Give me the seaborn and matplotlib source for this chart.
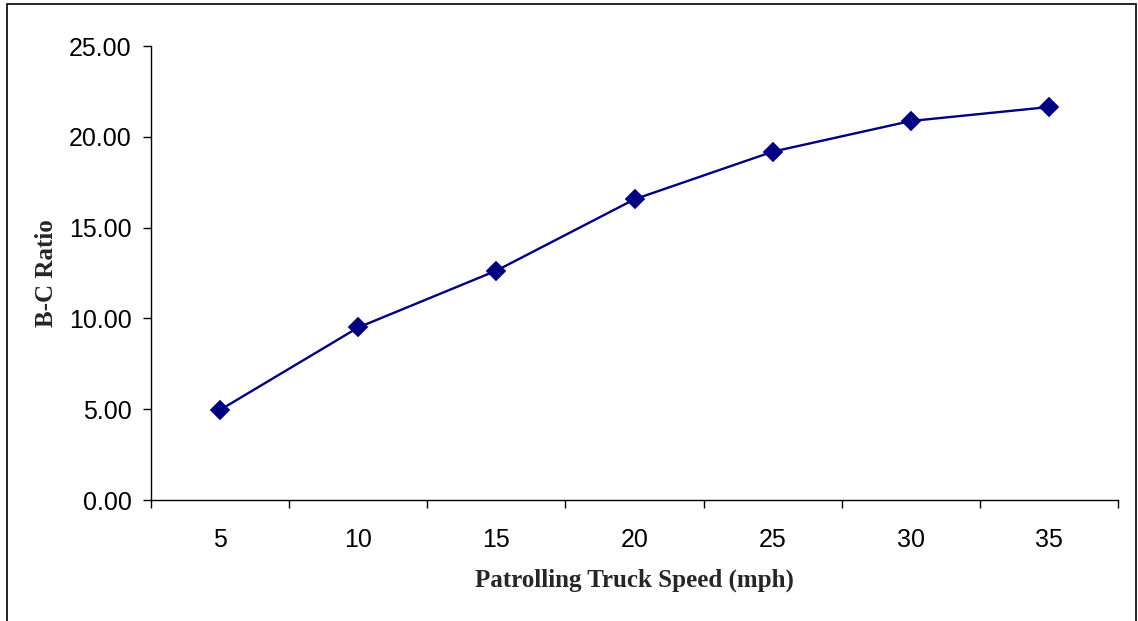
import numpy as np
import pandas as pd
import seaborn as sns
import matplotlib.pyplot as plt
from matplotlib.patches import Rectangle

# data
speeds = ["5", "10", "15", "20", "25", "30", "35"]
bc_ratio = [4.96, 9.50, 12.63, 16.56, 19.18, 20.87, 21.64]

df = pd.DataFrame({"speed": speeds, "ratio": bc_ratio})

sns.set_style("white")
plt.rcParams['font.family'] = ['Liberation Sans', 'DejaVu Sans']

fig = plt.figure(figsize=(11.38, 6.21), dpi=100)
ax = fig.add_axes([151 / 1138, 121 / 621, 967 / 1138, 454 / 621])

sns.pointplot(data=df, x="speed", y="ratio", color="#000080", markers="D",
              errorbar=None, linewidth=1.7, markersize=9.5, ax=ax)

ax.set_xlim(-0.5, len(speeds) - 0.5)
ax.set_ylim(0, 25)
ax.set_yticks(np.arange(0, 26, 5))
ax.set_yticklabels([f"{v:.2f}" for v in np.arange(0, 26, 5)])

# category labels centered, ticks between categories
ax.set_xticks(np.arange(len(speeds)))
ax.set_xticklabels(speeds)
ax.set_xticks(np.arange(-0.5, len(speeds)), minor=True)
ax.tick_params(axis="x", which="major", length=0, pad=20, labelsize=18, colors="black")
ax.tick_params(axis="x", which="minor", length=6, width=1, direction="out", bottom=True, color="black")
ax.tick_params(axis="y", length=6, width=1, direction="out", left=True, pad=8, labelsize=18, colors="black")

for side in ["top", "right"]:
    ax.spines[side].set_visible(False)
for side in ["left", "bottom"]:
    ax.spines[side].set_color("black")
    ax.spines[side].set_linewidth(1)

ax.set_xlabel("Patrolling Truck Speed (mph)", family="Liberation Serif",
              fontweight="bold", fontsize=18)
ax.set_ylabel("B-C Ratio", family="Liberation Serif", fontweight="bold", fontsize=18)
ax.xaxis.set_label_coords(0.5, -0.152)
ax.yaxis.set_label_coords(-0.096, 0.5)

# outer chart border
fig.patches.append(Rectangle((7 / 1138, -0.01), 1129 / 1138, 1 - 4 / 621 + 0.01,
                             transform=fig.transFigure, fill=False,
                             edgecolor="black", linewidth=1.2))

fig.savefig("out.png", dpi=100)
